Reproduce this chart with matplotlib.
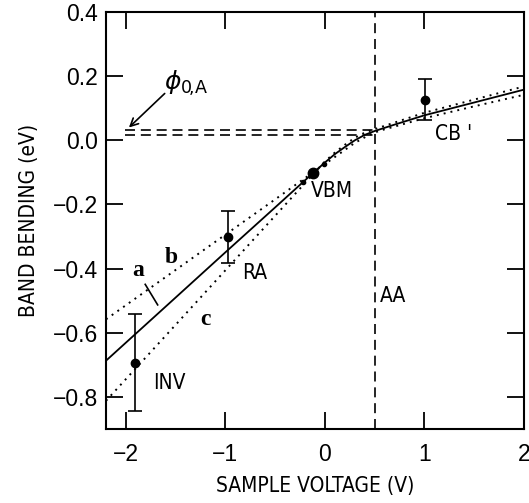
import matplotlib
matplotlib.use('Agg')
import matplotlib.pyplot as plt
from matplotlib import font_manager as fm

# curve a (solid) and the two dotted bounds b, c
volt_a = [-2.2, -1.5, -1.0, -0.5, -0.12, 0.0, 0.1, 0.2, 0.3, 0.4, 0.5, 0.7, 1.0, 1.5, 2.0]
band_a = [-0.687, -0.490, -0.349, -0.209, -0.102, -0.069, -0.043, -0.021, 0.000, 0.017, 0.029, 0.049, 0.078, 0.118, 0.158]

volt_b = [-2.2, -1.5, -1.0, -0.5, -0.12, 0.0, 0.2, 0.3, 0.45, 0.55, 1.0, 1.5, 2.0]
band_b = [-0.558, -0.404, -0.294, -0.184, -0.100, -0.074, -0.030, -0.008, 0.018, 0.030, 0.069, 0.106, 0.142]

volt_c = [-2.2, -1.5, -1.0, -0.5, -0.12, 0.0, 0.1, 0.2, 0.3, 0.4, 0.5, 1.0, 1.5, 2.0]
band_c = [-0.812, -0.575, -0.405, -0.235, -0.106, -0.066, -0.038, -0.014, 0.008, 0.024, 0.035, 0.086, 0.127, 0.168]

# measured points with error bars: INV, RA, CB'
pt_v = [-1.91, -0.97, 1.01]
pt_b = [-0.693, -0.301, 0.127]
pt_err = [0.150, 0.080, 0.065]

vbm_v, vbm_b = -0.118, -0.102
small_v = [-0.218, -0.01]
small_b = [-0.131, -0.073]

phi_levels = [0.033, 0.016]
v_aa = 0.5

plt.rcParams['font.family'] = ['Liberation Sans', 'DejaVu Sans']

# look for a narrow sans face for the labels (the original lettering is condensed)
narrow_file = None
for f in fm.fontManager.ttflist:
    nm = f.name.lower()
    if ('narrow' in nm or 'condensed' in nm or f.stretch in ('condensed', 'semi-condensed')) \
            and 'serif' not in nm and 'mono' not in nm and f.style == 'normal' \
            and f.weight in (400, 'normal', 'regular', 'book'):
        narrow_file = f.fname
        break
if narrow_file:
    lab_fp = fm.FontProperties(fname=narrow_file, size=15)
else:
    lab_fp = fm.FontProperties(family='Liberation Sans', size=13)

fig = plt.figure(figsize=(5.29, 5.03), dpi=100)
ax = fig.add_axes([0.2004, 0.1471, 0.7901, 0.829])

ax.plot(volt_a, band_a, color='black', lw=1.3)
ax.plot(volt_b, band_b, color='black', lw=1.4, ls=(0, (1.0, 2.6)))
ax.plot(volt_c, band_c, color='black', lw=1.4, ls=(0, (1.0, 2.6)))

ax.errorbar(pt_v, pt_b, yerr=pt_err, fmt='o', color='black', ms=6,
            elinewidth=1.2, capsize=5, capthick=1.2)
ax.plot([vbm_v], [vbm_b], 'o', color='black', ms=7.5)
ax.plot(small_v, small_b, 'o', color='black', ms=3)

for lev in phi_levels:
    ax.plot([-2.01, v_aa], [lev, lev], color='black', lw=1.2, ls=(0, (6, 3.5)))
ax.axvline(v_aa, color='black', lw=1.2, ls=(0, (6, 3.5)))

ax.annotate('', xy=(-1.99, 0.034), xytext=(-1.59, 0.152),
            arrowprops=dict(arrowstyle='->', color='black', lw=1.2, mutation_scale=14))
ax.text(-1.62, 0.178, r'$\phi_{\mathrm{0\!,\!A}}$', fontsize=18, ha='left', va='center')

ax.plot([-1.806, -1.681], [-0.449, -0.513], color='black', lw=1.2)

serif = dict(family='Liberation Serif', fontsize=17, fontweight='bold', ha='center', va='center')
ax.text(-1.876, -0.407, 'a', **serif)
ax.text(-1.541, -0.364, 'b', **serif)
ax.text(-1.196, -0.558, 'c', **serif)

lab = dict(fontproperties=lab_fp, ha='center', va='center')
ax.text(-0.71, -0.413, 'RA', **lab)
ax.text(-1.565, -0.758, 'INV', **lab)
ax.text(0.067, -0.159, 'VBM', **lab)
ax.text(1.29, 0.020, "CB '", **lab)
ax.text(0.687, -0.485, 'AA', **lab)

ax.set_xlim(-2.2, 2.0)
ax.set_ylim(-0.9, 0.4)
ax.set_xticks([-2, -1, 0, 1, 2])
ax.set_yticks([-0.8, -0.6, -0.4, -0.2, 0.0, 0.2, 0.4])

ax.tick_params(direction='in', length=12, width=1.3, top=True, right=True,
               labelsize=16.5)
ax.tick_params(axis='x', pad=10)
ax.tick_params(axis='y', pad=6)
for sp in ax.spines.values():
    sp.set_linewidth(1.5)

ax.set_xlabel('SAMPLE VOLTAGE (V)', fontproperties=lab_fp, labelpad=7)
ax.set_ylabel('BAND BENDING (eV)', fontproperties=lab_fp, labelpad=10)

fig.savefig('out.png', dpi=100)
